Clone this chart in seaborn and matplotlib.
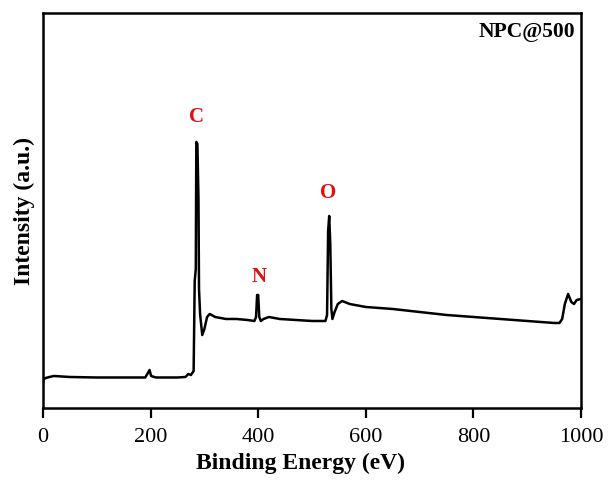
import matplotlib
matplotlib.use("Agg")
import matplotlib.pyplot as plt
import seaborn as sns
import pandas as pd

binding_energy = [0, 2, 5, 12, 20, 50, 100, 150, 190, 195, 198, 201, 210, 250, 265, 270, 275, 280,
                  282, 284, 285, 287, 289, 290, 292, 296, 300, 305, 310, 320, 340, 360, 380,
                  393, 396, 398, 400, 402, 405, 410, 420, 440, 470, 500, 525, 528, 530, 532,
                  534, 536, 538, 542, 548, 556, 570, 600, 650, 700, 750, 800, 850, 900, 950,
                  960, 965, 970, 976, 982, 987, 992, 1000]
intensity = [26, 29, 30, 31, 32, 31, 30.5, 30.5, 30.5, 35, 38, 32, 30.5, 30.5, 31, 34, 33, 37,
             127, 139, 266, 264, 209, 119, 94, 73, 79, 91, 94, 91, 89, 89, 88,
             87, 91, 113, 113, 91, 87, 89, 91, 89, 88, 87, 87, 93, 177, 192,
             164, 99, 89, 96, 104, 107, 104, 101, 99, 96, 93, 91, 89, 87, 85,
             85, 89, 104, 114, 106, 104, 108, 109]

peak_labels = ["C", "N", "O"]
peak_x = [286, 401, 530]
peak_y = [292, 132, 216]
sample_name = "NPC@500"
x_ticks = [0, 200, 400, 600, 800, 1000]

df = pd.DataFrame({"Binding Energy (eV)": binding_energy, "Intensity": intensity})

sns.set_style("white")
plt.rcParams["font.family"] = ["Liberation Serif", "DejaVu Serif"]
plt.rcParams["text.color"] = "black"
plt.rcParams["axes.labelcolor"] = "black"
plt.rcParams["xtick.color"] = "black"

fig = plt.figure(figsize=(6.09, 4.81), dpi=100)
ax = fig.add_axes([0.0706, 0.1497, 0.8834, 0.8213])
sns.lineplot(data=df, x="Binding Energy (eV)", y="Intensity", ax=ax,
             color="black", linewidth=1.8, estimator=None, sort=False)

ax.set_xlim(0, 1000)
ax.set_ylim(0, 395)
ax.set_xticks(x_ticks)
ax.set_xticklabels([str(t) for t in x_ticks], fontsize=16)
ax.set_yticks([])
ax.tick_params(axis="x", direction="out", length=7, width=1.6, bottom=True, pad=7)
for s in ax.spines.values():
    s.set_linewidth(1.8)
    s.set_color("black")

ax.set_xlabel("Binding Energy (eV)", fontsize=17, fontweight="bold")
ax.xaxis.set_label_coords(0.478, -0.112)
ax.set_ylabel("Intensity (a.u.)", fontsize=17, fontweight="bold", labelpad=6)

for lab, xv, yv in zip(peak_labels, peak_x, peak_y):
    ax.text(xv, yv, lab, color="#e01010", fontsize=15, fontweight="bold",
            ha="center", va="center")
ax.text(0.99, 0.955, sample_name, transform=ax.transAxes, fontsize=15.5,
        fontweight="bold", ha="right", va="center")

fig.savefig("out.png", dpi=100)
